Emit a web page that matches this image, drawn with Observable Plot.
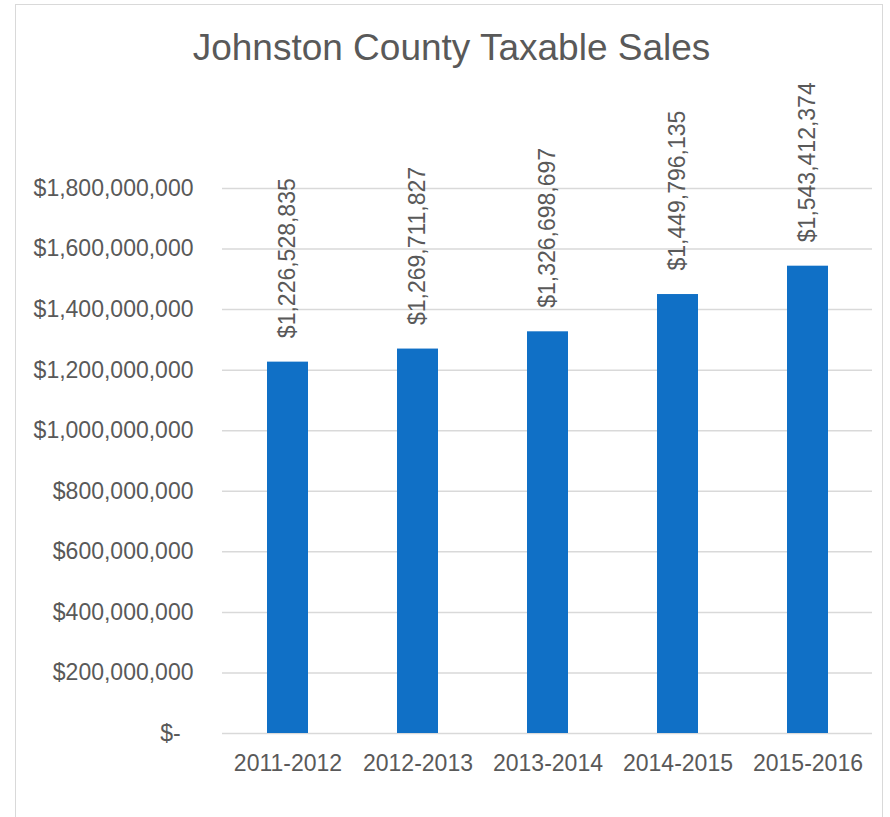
<!DOCTYPE html>
<html>
<head>
<meta charset="utf-8">
<script src="https://cdn.jsdelivr.net/npm/d3@7"></script>
<script src="https://cdn.jsdelivr.net/npm/@observablehq/plot@0.6"></script>
<style>
  html, body { margin: 0; padding: 0; background: #fff; }
  #wrap { position: relative; width: 890px; height: 817px; overflow: hidden; font-family: "Liberation Sans", Arial, sans-serif; }
  #frame { position: absolute; left: 15px; top: 4px; width: 868px; height: 830px; border: 1.5px solid #D9D9D9; box-sizing: border-box; }
  #title { position: absolute; left: 0; top: 0; width: 903px; height: 80px; line-height: 37px; padding-top: 29px; box-sizing: border-box; text-align: center; font-size: 37px; color: #595959; }
  #chart { position: absolute; left: 0; top: 80px; }
  #chart svg { overflow: visible; }
</style>
</head>
<body>
<div id="wrap">
  <div id="frame"></div>
  <div id="title">Johnston County Taxable Sales</div>
  <div id="chart"></div>
</div>
<script>
const years = ["2011-2012", "2012-2013", "2013-2014", "2014-2015", "2015-2016"];
const sales = [1226528835, 1269711827, 1326698697, 1449796135, 1543412374];
const yTicks = [0, 200000000, 400000000, 600000000, 800000000, 1000000000, 1200000000, 1400000000, 1600000000, 1800000000];

const data = years.map((year, i) => ({year, value: sales[i]}));
const money = v => v === 0 ? "$-\u00A0\u00A0" : "$" + d3.format(",")(v);

const chart = Plot.plot({
  width: 890,
  height: 737,
  marginTop: 108,
  marginBottom: 84,
  marginLeft: 222,
  marginRight: 18,
  style: { fontFamily: "'Liberation Sans', Arial, sans-serif", fontSize: "23px", color: "#595959", background: "transparent", overflow: "visible" },
  x: { domain: years, paddingInner: 0.685, paddingOuter: 0.3425, label: null },
  y: { domain: [0, 1800000000], label: null },
  marks: [
    Plot.ruleY(yTicks, { stroke: "#D9D9D9", strokeWidth: 1.5 }),
    Plot.barY(data, { x: "year", y: "value", fill: "#1070C6" }),
    Plot.text(data, { x: "year", y: "value", text: d => money(d.value), rotate: -90, textAnchor: "start", dy: -24, fill: "#595959", fontSize: 23 }),
    Plot.axisY(yTicks, { tickSize: 0, tickPadding: 29, tickFormat: money, fontSize: 23, label: null }),
    Plot.axisX({ tickSize: 0, tickPadding: 21, fontSize: 23, label: null })
  ]
});
document.getElementById("chart").appendChild(chart);
</script>
</body>
</html>
